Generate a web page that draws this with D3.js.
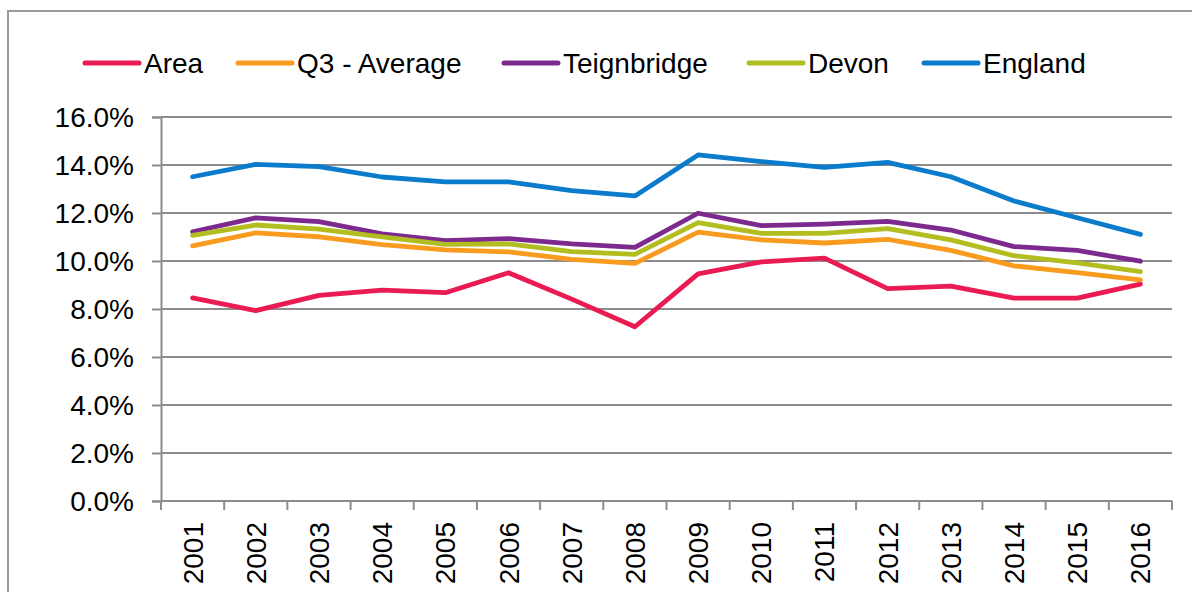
<!DOCTYPE html>
<html>
<head>
<meta charset="utf-8">
<script src="https://cdn.jsdelivr.net/npm/d3@7"></script>
<style>
  html, body { margin: 0; padding: 0; background: #fff; }
  svg { display: block; font-family: "Liberation Sans", Arial, sans-serif; }
</style>
</head>
<body>
<svg id="chart" width="1192" height="592"></svg>
<script>
const years = ["2001","2002","2003","2004","2005","2006","2007","2008","2009","2010","2011","2012","2013","2014","2015","2016"];
const area        = [8.46, 7.93, 8.57, 8.79, 8.68, 9.51, 8.41, 7.26, 9.46, 9.96, 10.12, 8.85, 8.95, 8.45, 8.45, 9.04];
const q3Average   = [10.63, 11.17, 11.01, 10.68, 10.46, 10.38, 10.07, 9.90, 11.20, 10.88, 10.75, 10.90, 10.44, 9.80, 9.52, 9.21];
const teignbridge = [11.22, 11.80, 11.64, 11.13, 10.85, 10.93, 10.71, 10.57, 11.99, 11.47, 11.54, 11.65, 11.29, 10.60, 10.44, 9.99];
const devon       = [11.07, 11.50, 11.33, 11.01, 10.69, 10.71, 10.39, 10.28, 11.60, 11.15, 11.15, 11.35, 10.88, 10.22, 9.92, 9.56];
const england     = [13.51, 14.03, 13.93, 13.50, 13.30, 13.30, 12.93, 12.71, 14.42, 14.14, 13.90, 14.11, 13.51, 12.50, 11.80, 11.11];
const seriesNames = ["Area", "Q3 - Average", "Teignbridge", "Devon", "England"];
const yTicks = [0, 2, 4, 6, 8, 10, 12, 14, 16];

const seriesValues = [area, q3Average, teignbridge, devon, england];
const colors = ["#EA1A52", "#F99B1E", "#7D2A8E", "#B2BD20", "#0A7CCB"];

const svg = d3.select("#chart");
const plotLeft = 161, plotRight = 1172, plotTop = 117, plotBottom = 501;

// outer border
svg.append("rect").attr("x", 8).attr("y", 11).attr("width", 1200).attr("height", 620)
  .attr("fill", "none").attr("stroke", "#9a9a9a").attr("stroke-width", 2);

const x = d3.scaleBand().domain(years).range([plotLeft, plotRight]).paddingInner(0).paddingOuter(0);
const y = d3.scaleLinear().domain([0, 16]).range([plotBottom, plotTop]);

// gridlines
svg.append("g").selectAll("line").data(yTicks.filter(d => d > 0)).join("line")
  .attr("x1", plotLeft).attr("x2", plotRight)
  .attr("y1", d => y(d)).attr("y2", d => y(d))
  .attr("stroke", "#8c8c8c").attr("stroke-width", 2);

// y axis
const yAxis = svg.append("g").attr("transform", `translate(${plotLeft},0)`)
  .call(d3.axisLeft(y).tickValues(yTicks).tickSize(9).tickPadding(18).tickFormat(d => d3.format(".1f")(d) + "%"));
yAxis.select(".domain").attr("stroke", "#8c8c8c").attr("stroke-width", 2);
yAxis.selectAll(".tick line").attr("stroke", "#8c8c8c").attr("stroke-width", 2);
yAxis.selectAll(".tick text").attr("font-size", 28).attr("fill", "#000")
  .attr("font-family", "'Liberation Sans', Arial, sans-serif").attr("dy", "0.35em");

// x axis baseline
svg.append("line").attr("x1", plotLeft).attr("x2", plotRight).attr("y1", plotBottom).attr("y2", plotBottom)
  .attr("stroke", "#8c8c8c").attr("stroke-width", 2);
// x ticks at category boundaries
const bounds = years.map(d => x(d)).concat([x(years[years.length - 1]) + x.bandwidth()]);
svg.append("g").selectAll("line").data(bounds).join("line")
  .attr("x1", d => d).attr("x2", d => d).attr("y1", plotBottom).attr("y2", plotBottom + 9)
  .attr("stroke", "#8c8c8c").attr("stroke-width", 2);
// x labels
svg.append("g").selectAll("text").data(years).join("text")
  .attr("transform", d => `translate(${x(d) + x.bandwidth() / 2 + 10},${plotBottom + 21}) rotate(-90)`)
  .attr("text-anchor", "end").attr("font-size", 28).attr("fill", "#000")
  .text(d => d);

// lines
const line = d3.line().x((d, i) => x(years[i]) + x.bandwidth() / 2).y(d => y(d));
svg.append("g").selectAll("path").data(seriesValues).join("path")
  .attr("d", d => line(d))
  .attr("fill", "none")
  .attr("stroke", (d, i) => colors[i])
  .attr("stroke-width", 4.8)
  .attr("stroke-linejoin", "round")
  .attr("stroke-linecap", "round");

// legend
const legendX = [85, 238, 504, 749, 924];
const lg = svg.append("g").selectAll("g").data(seriesNames).join("g")
  .attr("transform", (d, i) => `translate(${legendX[i]},63)`);
lg.append("line").attr("x1", 0).attr("x2", 54).attr("y1", 0).attr("y2", 0)
  .attr("stroke", (d, i) => colors[i]).attr("stroke-width", 5).attr("stroke-linecap", "round");
lg.append("text").attr("x", 59).attr("y", 10).attr("font-size", 28).attr("fill", "#000").text(d => d);
</script>
</body>
</html>
